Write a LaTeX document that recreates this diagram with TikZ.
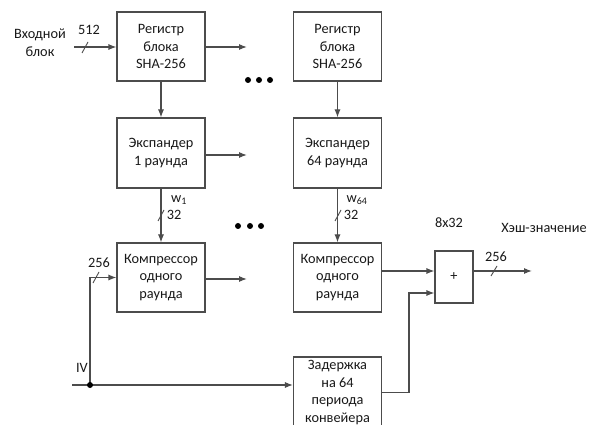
\documentclass[tikz,border=0pt]{standalone}
\usepackage{fontspec}
\setmainfont{Carlito}
\usetikzlibrary{arrows.meta,calc}
\tikzset{
  ln/.style={draw=black!70, line width=1.1pt},
  arr/.style={ln, -{Latex[length=8pt,width=6pt]}},
  blk/.style={ln, rectangle, minimum width=88pt, minimum height=69pt, align=center,
    inner sep=1pt, text=black!90, font=\fontsize{14.3}{17.5}\selectfont},
  lbl/.style={inner sep=0pt, text=black!90, font=\fontsize{14.3}{17.5}\selectfont},
  slash/.style={ln, line width=0.9pt},
  dotc/.style={fill=black, circle, inner sep=0pt, minimum size=6pt}
}
\begin{document}
\begin{tikzpicture}[x=1pt,y=-1pt]
\clip (0,0) rectangle (590,425);
\fill[white] (0,0) rectangle (590,425);

% blocks
\node[blk] (reg1) at (161,46.5) {Регистр\\блока\\SHA-256};
\node[blk, minimum height=70pt] (exp1) at (161,153) {Экспандер\\1 раунда};
\node[blk] (comp1) at (161,277.5) {Компрессор\\одного\\раунда};
\node[blk] (reg64) at (337.5,46.5) {Регистр\\блока\\SHA-256};
\node[blk, minimum height=70pt] (exp64) at (337.5,153) {Экспандер\\64 раунда};
\node[blk] (comp64) at (337.5,277.5) {Компрессор\\одного\\раунда};
\node[blk, minimum height=71pt] (delay) at (337.5,392.5) {Задержка\\на 64\\периода\\конвейера};
\node[blk, minimum width=38pt, minimum height=52pt] (plus) at (454,277) {+};

% coordinates
\coordinate (in1) at (74,47);
\coordinate (o1) at (247,47);
\coordinate (o2) at (247,155);
\coordinate (o3) at (247,279);
\coordinate (pin1) at ($(plus.west)+(0,-6)$);
\coordinate (pin2) at ($(plus.west)+(0,16)$);
\coordinate (pout) at ($(plus.east)+(0,-6)$);
\coordinate (hout) at (532,271);
\coordinate (ivs) at (72,385);
\coordinate (ivd) at (90,385);
\coordinate (dturn) at (409,392.5);

% connectors
\draw[arr] (in1) -- (reg1.west |- in1);
\draw[arr] (reg1.east |- o1) -- (o1);
\draw[arr] (exp1.east |- o2) -- (o2);
\draw[arr] (comp1.east |- o3) -- (o3);
\draw[arr] (reg1.south) -- (exp1.north);
\draw[arr] (exp1.south) -- (comp1.north);
\draw[arr] (reg64.south) -- (exp64.north);
\draw[arr] (exp64.south) -- (comp64.north);
\draw[arr] (comp64.east |- pin1) -- (pin1);
\draw[arr] (delay.east) -- (dturn) |- (pin2);
\draw[arr] (pout) -- (hout);
\draw[arr] (ivs) -- (delay.west |- ivs);
\draw[arr] (ivd) |- (comp1.west);
\fill[black] (ivd) circle (3pt);

% bus slashes
\draw[slash] (82,53) -- (88,42);
\draw[slash] (158,221) -- (164,210);
\draw[slash] (335,221) -- (341,210);
\draw[slash] (93,283) -- (99,272);
\draw[slash] (491,276) -- (497,266);

% dots
\node[dotc] (d1) at (248,80) {};
\node[dotc] (d2) at (259,80) {};
\node[dotc] (d3) at (270,80) {};
\node[dotc] (d4) at (238,226) {};
\node[dotc] (d5) at (250,226) {};
\node[dotc] (d6) at (261,226) {};

% labels
\node[lbl, align=center] (inlbl) at (40,42.5) {Входной\\блок};
\node[lbl] (l512) at (89,30) {512};
\node[lbl] (lw1) at (179,200) {w\textsubscript{1}};
\node[lbl] (l32a) at (174,215) {32};
\node[lbl] (lw64) at (357,200) {w\textsubscript{64}};
\node[lbl] (l32b) at (351,215) {32};
\node[lbl] (l8x32) at (449,223) {8x32};
\node[lbl] (lhash) at (544,228) {Хэш-значение};
\node[lbl] (l256o) at (496,257) {256};
\node[lbl] (l256i) at (99,263) {256};
\node[lbl] (liv) at (82,368) {IV};
\end{tikzpicture}
\end{document}
